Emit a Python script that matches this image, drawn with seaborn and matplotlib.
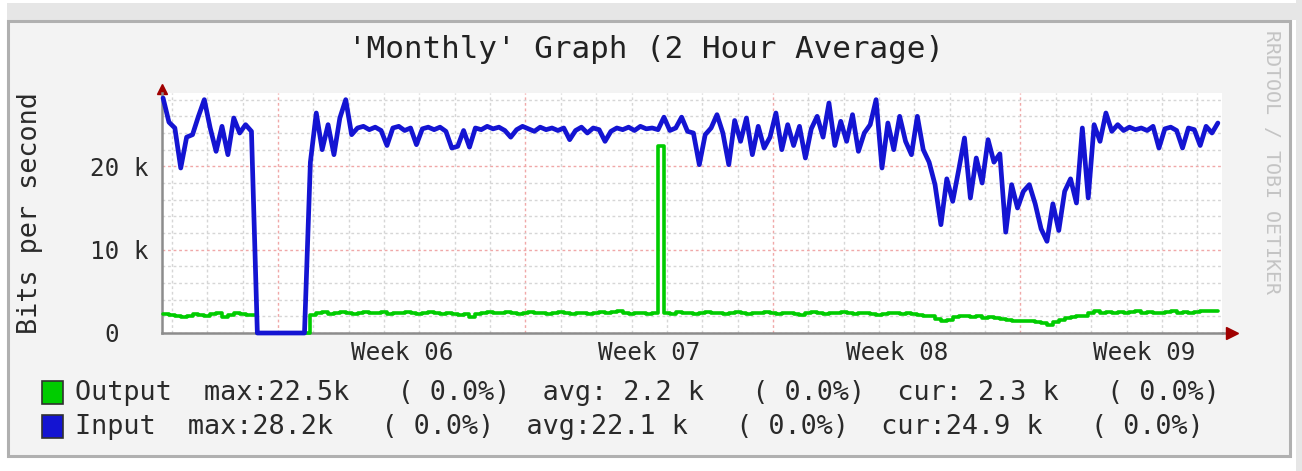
import numpy as np
import pandas as pd
import seaborn as sns
import matplotlib.pyplot as plt
from matplotlib.patches import Rectangle

# 2-hour-average traffic, one sample every 4 hours, values in k bits/s
step_hours = 4

input_k = [
    # start of month, before the outage
    28.2, 25.3, 24.6, 19.8, 23.5, 23.8, 26.0, 28.0, 24.6, 21.8, 24.8, 21.4, 25.8, 24.0, 25.0, 24.2,
    # outage
    0, 0, 0, 0, 0, 0, 0, 0, 0,
    # week 06
    20.5, 26.4, 22.0, 25.0, 21.4, 25.8, 28.0, 23.8, 24.6, 24.8, 24.4, 24.7, 24.3, 22.5, 24.6, 24.8,
    24.3, 24.6, 22.6, 24.5, 24.7,
    24.4, 24.7, 24.2, 22.2, 22.4, 24.3, 22.3, 24.6, 24.4, 24.8, 24.5, 24.7, 24.3, 23.5, 24.4, 24.8,
    24.5, 24.2, 24.7, 24.4, 24.6, 24.3, 24.6, 23.2, 24.3, 24.7, 24.0, 24.6, 24.4, 23.0, 24.2, 24.6,
    24.4, 24.7, 24.3, 24.8, 24.5, 24.6, 24.4, 25.9, 24.3, 24.6, 25.9, 24.2, 24.0, 20.2,
    # week 07 - 08
    23.8, 24.6, 26.2, 24.0, 20.2, 25.5, 23.0, 25.8, 21.4, 24.8, 22.2, 23.5, 26.4, 22.0, 25.0, 22.5,
    24.8, 21.0, 24.5, 26.0, 23.5, 27.6, 22.5, 25.4, 23.0, 26.2, 21.8, 24.0, 25.0, 28.0, 19.8, 25.2,
    22.0, 26.0, 23.0, 21.4, 26.0, 22.0, 20.5, 17.8, 13.0, 18.5, 15.8, 19.5, 23.4, 16.2,
    # week 08 dip and week 09
    21.0, 18.0, 23.2, 20.5, 21.5, 12.1, 17.8, 15.0, 17.0, 17.8, 15.5, 12.5, 11.0, 15.5, 12.3, 17.0,
    18.5, 15.6, 24.6, 16.2, 25.0, 23.0, 26.4, 24.2, 25.0, 24.3, 24.7, 24.4, 24.6, 24.3, 24.8, 22.2,
    24.5, 24.7, 24.3, 22.2, 24.6, 24.4, 22.5, 24.8, 24.0, 25.2,
]

output_k = [
    2.3, 2.2, 2.1, 1.9, 2.1, 2.3, 2.2, 2.1, 2.3, 2.4, 1.9, 2.2, 2.4, 2.3, 2.2, 2.2,
    0, 0, 0, 0, 0, 0, 0, 0, 0,
    2.2, 2.4, 2.5, 2.3, 2.4, 2.5, 2.4, 2.3, 2.4, 2.5, 2.4, 2.4, 2.5, 2.3, 2.4, 2.4, 2.5, 2.4, 2.3,
    2.4, 2.5,
    2.4, 2.3, 2.4, 2.3, 2.2, 2.3, 1.9, 2.3, 2.4, 2.5, 2.4, 2.4, 2.5, 2.4, 2.3, 2.4, 2.5, 2.4, 2.4,
    2.3, 2.4, 2.5, 2.4, 2.3, 2.4, 2.4, 2.3, 2.4, 2.5, 2.4, 2.5, 2.6, 2.4, 2.3, 2.4, 2.4, 2.3, 2.4,
    22.5,
    2.4, 2.3, 2.5, 2.4, 2.4, 2.3, 2.4, 2.5, 2.4, 2.4, 2.3, 2.4, 2.5, 2.4, 2.3, 2.4, 2.4, 2.5, 2.4,
    2.3, 2.4, 2.4, 2.3, 2.2, 2.4, 2.5, 2.4, 2.3, 2.4, 2.4, 2.5, 2.4, 2.3, 2.4, 2.4, 2.3, 2.2, 2.3,
    2.4, 2.4, 2.3, 2.4, 2.3, 2.2, 2.1,
    2.0, 1.7, 1.5, 1.6, 1.9,
    2.1, 2.0, 1.9, 2.0, 1.8, 1.9, 1.8, 1.7,
    1.6, 1.5, 1.4, 1.5, 1.4, 1.3, 1.2, 1.0, 1.3,
    1.6, 1.8, 1.9, 2.0, 2.1,
    2.4, 2.6, 2.4, 2.5, 2.4, 2.5, 2.4, 2.5, 2.6, 2.4, 2.5, 2.4, 2.4, 2.5, 2.6, 2.4, 2.5, 2.4, 2.5,
    2.6, 2.6, 2.7, 2.6,
]

# week boundaries (in days from the left edge) and labels
week_starts = [3.25, 10.25, 17.25, 24.25]
week_labels = ["Week 06", "Week 07", "Week 08", "Week 09"]
y_major = [0, 10, 20]
y_major_labels = ["0  ", "10 k", "20 k"]
y_minor = [2, 4, 6, 8, 12, 14, 16, 18, 22, 24, 26, 28]

legend_rows = [
    ("Output", "Output  max:22.5k   ( 0.0%)  avg: 2.2 k   ( 0.0%)  cur: 2.3 k   ( 0.0%)", "#00cc00"),
    ("Input", "Input  max:28.2k   ( 0.0%)  avg:22.1 k   ( 0.0%)  cur:24.9 k   ( 0.0%)", "#1414d2"),
]

days = np.arange(len(input_k)) * step_hours / 24.0
df = pd.DataFrame({"day": days, "Output": output_k, "Input": input_k})

sns.set_style("white")
plt.rcParams["font.family"] = ["DejaVu Sans Mono", "DejaVu Sans"]

W, H = 1302, 471
fig = plt.figure(figsize=(W / 100, H / 100), dpi=100)
fig.patch.set_facecolor("white")


def fx(px):
    return px / W


def fy(py):
    return 1 - py / H


# canvas background like the rrd png (kept behind the axes)
fig.add_artist(Rectangle((fx(7), fy(20)), fx(1302) - fx(7), fy(3) - fy(20),
                         transform=fig.transFigure, fc="#e6e6e6", ec="none", zorder=-10))
fig.add_artist(Rectangle((fx(8), fy(456)), fx(1290) - fx(8), fy(21) - fy(456),
                         transform=fig.transFigure, fc="#f3f3f3", ec="#b0b0b0", lw=2.2, zorder=-10))
fig.add_artist(Rectangle((fx(1296), 0), fx(6), 1, transform=fig.transFigure,
                         fc="#e6e6e6", ec="none", zorder=-10))

ax = fig.add_axes([fx(162), fy(333), (1222 - 162) / W, (333 - 93) / H])
ax.set_facecolor("white")

sns.lineplot(data=df, x="day", y="Output", ax=ax, color="#00cc00", lw=2.6,
             drawstyle="steps-post", clip_on=False, zorder=3)
sns.lineplot(data=df, x="day", y="Input", ax=ax, color="#1414d2", lw=3.4,
             clip_on=False, zorder=4)

ax.set_xlim(-0.03, 29.95)
ax.set_ylim(0, 28.8)

day_lines = [d + 0.25 for d in range(30)]
ax.set_xticks(week_starts)
ax.set_xticks(day_lines, minor=True)
ax.set_xticklabels([])
ax.set_yticks(y_major)
ax.set_yticks(y_minor, minor=True)
ax.set_yticklabels(y_major_labels, fontsize=17.5, color="#2a2a2a")

ax.grid(which="minor", color="#d6d6d6", linestyle=(0, (2, 2)), lw=1.0)
ax.grid(which="major", color="#f0a8a8", linestyle=(0, (2, 2)), lw=1.0)
ax.set_axisbelow(True)
ax.tick_params(axis="x", which="both", length=3, color="#909090", direction="inout")
ax.tick_params(axis="y", which="both", length=3, color="#909090", direction="inout", pad=8)
ax.set_xlabel("")
ax.set_ylabel("")

for s in ["top", "right"]:
    ax.spines[s].set_visible(False)
for s in ["left", "bottom"]:
    ax.spines[s].set_color("#8c8c8c")
    ax.spines[s].set_linewidth(1.8)

# axis arrows
ax.plot([1.0, 1.006], [0, 0], color="#8c8c8c", lw=1.8, transform=ax.transAxes, clip_on=False)
ax.plot([1.009], [0], marker=">", ms=8, color="#a00000", transform=ax.transAxes, clip_on=False)
ax.plot([0], [1.018], marker="^", ms=7, color="#a00000", transform=ax.transAxes, clip_on=False)

for x, lab in zip(week_starts, week_labels):
    ax.text(x + 3.5, -20 / 240, lab, transform=ax.get_xaxis_transform(),
            ha="center", va="center", fontsize=17.5, color="#2a2a2a")

fig.text(fx(646), fy(50), "'Monthly' Graph (2 Hour Average)", ha="center", va="center",
         fontsize=22.3, color="#222222")
fig.text(fx(30), fy(213), "Bits per second", rotation=90, ha="center", va="center",
         fontsize=19.4, color="#2a2a2a")
fig.text(fx(1271), fy(162), "RRDTOOL / TOBI OETIKER", rotation=270, ha="center", va="center",
         fontsize=14.4, color="#c4c4c4")

for i, (name, row, col) in enumerate(legend_rows):
    yc = 393 + i * 34
    fig.add_artist(Rectangle((fx(42), fy(yc + 11)), 21 / W, 23 / H, transform=fig.transFigure,
                             fc=col, ec="#303030", lw=1.2))
    fig.text(fx(75), fy(yc), row, ha="left", va="center", fontsize=19.4, color="#2a2a2a")

fig.savefig("out.png", dpi=100, facecolor=fig.get_facecolor())
